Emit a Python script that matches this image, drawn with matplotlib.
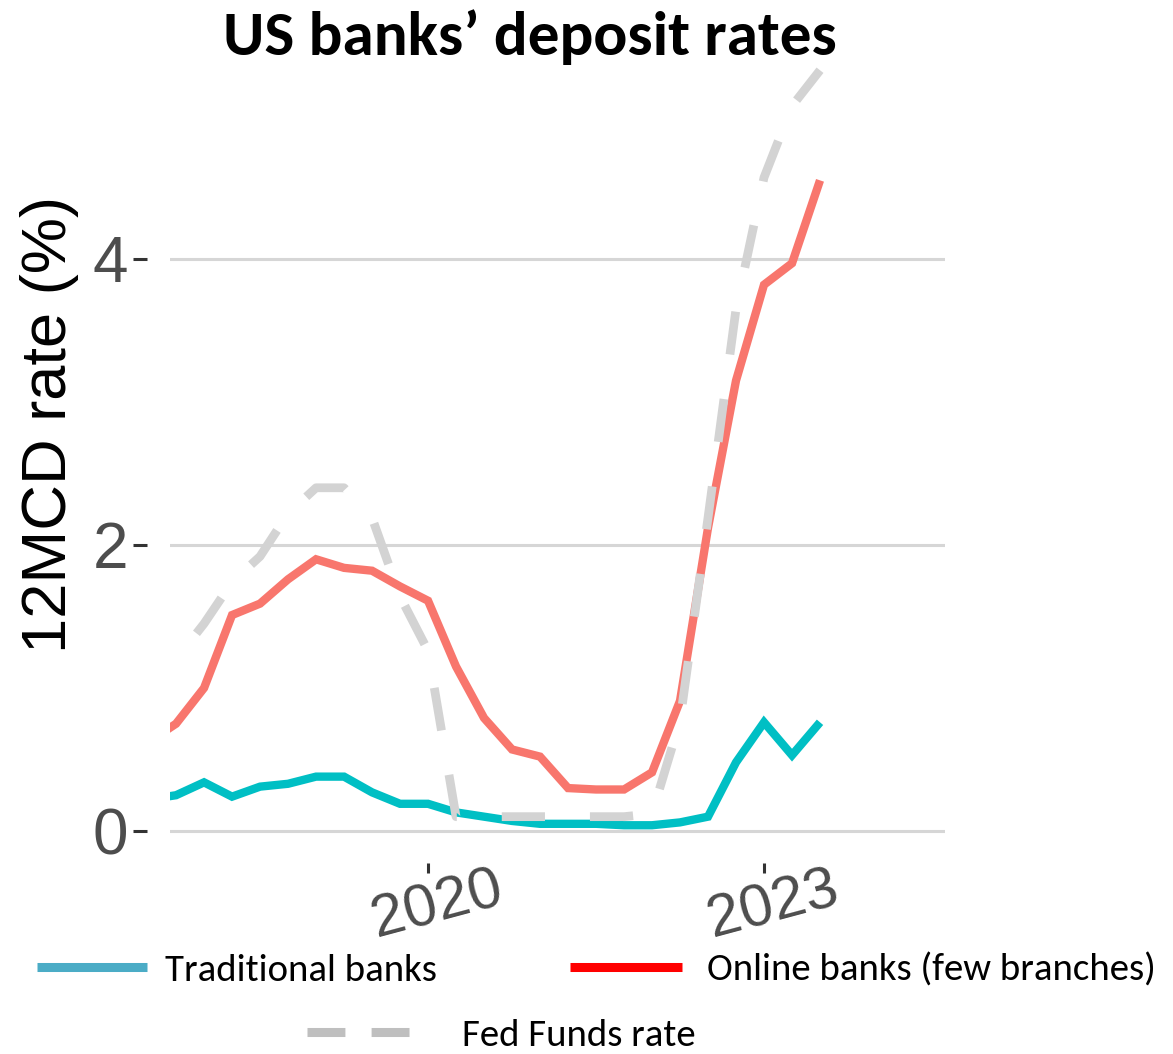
import matplotlib
matplotlib.use("Agg")
import matplotlib.pyplot as plt
import numpy as np
from matplotlib.lines import Line2D
from matplotlib.transforms import ScaledTranslation

# ---- data (quarterly, plotted at quarter start) ----
quarters = ["2017Q3", "2017Q4",
            "2018Q1", "2018Q2", "2018Q3", "2018Q4",
            "2019Q1", "2019Q2", "2019Q3", "2019Q4",
            "2020Q1", "2020Q2", "2020Q3", "2020Q4",
            "2021Q1", "2021Q2", "2021Q3", "2021Q4",
            "2022Q1", "2022Q2", "2022Q3", "2022Q4",
            "2023Q1", "2023Q2", "2023Q3"]
online_banks = [0.62, 0.75,
                1.00, 1.51, 1.59, 1.76,
                1.90, 1.84, 1.82, 1.71,
                1.61, 1.15, 0.79, 0.57,
                0.52, 0.30, 0.29, 0.29,
                0.41, 0.91, 2.12, 3.15,
                3.82, 3.97, 4.55]
traditional_banks = [0.22, 0.25,
                     0.34, 0.24, 0.31, 0.33,
                     0.38, 0.38, 0.27, 0.19,
                     0.19, 0.13, 0.10, 0.07,
                     0.05, 0.05, 0.05, 0.04,
                     0.04, 0.06, 0.10, 0.48,
                     0.76, 0.53, 0.76]
fed_funds = [1.15, 1.20,
             1.45, 1.74, 1.92, 2.22,
             2.40, 2.40, 2.19, 1.64,
             1.26, 0.10, 0.10, 0.10,
             0.10, 0.10, 0.10, 0.10,
             0.12, 0.77, 2.19, 3.65,
             4.57, 5.07, 5.32]
x_ticks = [2020, 2023]
x_tick_labels = ["2020", "2023"]
y_ticks = [0, 2, 4]
y_tick_labels = ["0", "2", "4"]

legend_labels = ["Traditional banks", "Online banks (few branches)", "Fed Funds rate"]
title = "US banks\u2019 deposit rates"
ylabel = "12MCD rate (%)"


def q_to_year(q):
    y, qq = q.split("Q")
    return int(y) + (int(qq) - 1) / 4.0


x = [q_to_year(q) for q in quarters]

# ---- figure ----
W, H, DPI = 1173, 1054, 100
fig = plt.figure(figsize=(W / DPI, H / DPI), dpi=DPI)
fig.patch.set_facecolor("white")

px_left, px_right = 170, 945
px_top, px_bottom = 44.5, 863
ax = fig.add_axes([px_left / W, 1 - px_bottom / H,
                   (px_right - px_left) / W, (px_bottom - px_top) / H])

ax.set_xlim(2017.696, 2024.616)
ax.set_ylim(-0.224, 5.5)

for s in ax.spines.values():
    s.set_visible(False)
ax.spines["left"].set_position(("outward", 23 * 72 / DPI))

ax.set_yticks(y_ticks)
ax.set_yticklabels(y_tick_labels)
ax.set_xticks(x_ticks)
ax.set_xticklabels(x_tick_labels)

ax.yaxis.grid(True, color="#D6D6D6", linewidth=2.2)
ax.xaxis.grid(False)
ax.set_axisbelow(True)

ax.tick_params(axis="y", length=10, width=2.2, color="#333333", pad=3.6,
               labelsize=46, labelcolor="#4D4D4D")
ax.tick_params(axis="x", length=7.2, width=2.2, color="#333333", pad=23,
               labelsize=43, labelcolor="#4D4D4D")
for lab in ax.get_yticklabels():
    lab.set_family(["Liberation Sans", "DejaVu Sans"])
for lab in ax.get_xticklabels():
    lab.set_family(["Liberation Sans", "DejaVu Sans"])
    lab.set_rotation(15)
    lab.set_rotation_mode("anchor")
    lab.set_ha("center")
    lab.set_va("center")
    lab.set_transform(lab.get_transform() + ScaledTranslation(9 / DPI, 0, fig.dpi_scale_trans))

ax.set_ylabel(ylabel, fontsize=45.5, color="black", va="center",
              family=["Liberation Sans", "DejaVu Sans"])
ax.yaxis.set_label_coords((50 - px_left) / (px_right - px_left),
                          (px_bottom - 425) / (px_bottom - px_top))

# ---- lines ----
ax.plot(x, traditional_banks, color="#00BFC4", linewidth=6,
        solid_joinstyle="miter", solid_capstyle="butt", zorder=3)
ax.plot(x, online_banks, color="#F8766D", linewidth=6,
        solid_joinstyle="miter", solid_capstyle="butt", zorder=3)

# dash phase: first visible dash starts ~62 px along the path, last dash ends at the path end
ff_lw = 6.3
pts = ax.transData.transform(np.column_stack([x, fed_funds]))
seglen = np.hypot(np.diff(pts[:, 0]), np.diff(pts[:, 1]))
L = seglen.sum()
first_start = 62.0
last_start = L - 38.0
n = max(1, int(round((last_start - first_start) / 86.0)))
P = (last_start - first_start) / n
unit = ff_lw * DPI / 72.0
on_px, off_px = 0.49 * P, 0.51 * P
offset_px = (P - first_start) % P
ax.plot(x, fed_funds, color="#D3D3D3", linewidth=ff_lw,
        linestyle=(offset_px / unit, (on_px / unit, off_px / unit)),
        dash_capstyle="butt", dash_joinstyle="round", zorder=4)

# ---- title ----
tfont = ["Carlito", "Lato", "DejaVu Sans"]
fig.text(530 / W, 1 - 55 / H, title, ha="center", va="baseline",
         fontsize=45.5, fontweight="heavy", family=tfont, color="black")

# ---- legend (three single-entry legends placed like the reference) ----
h1 = Line2D([], [], color="#4BACC6", linewidth=6.5, solid_capstyle="butt")
h2 = Line2D([], [], color="#FF0000", linewidth=6.5, solid_capstyle="butt")
h3 = Line2D([], [], color="#BFBFBF", linewidth=6.5, dashes=(4.2, 2.9),
            dash_capstyle="butt")
lfs = 28
em = lfs * DPI / 72
common = dict(frameon=False, borderpad=0, borderaxespad=0, loc="center left",
              prop={"family": tfont, "size": lfs})
fig.legend([h1], [legend_labels[0]], bbox_to_anchor=(37 / W, 1 - 970 / H),
           handlelength=110 / em, handletextpad=18 / em, **common)
fig.legend([h2], [legend_labels[1]], bbox_to_anchor=(570 / W, 1 - 970 / H),
           handlelength=112 / em, handletextpad=25 / em, **common)
fig.legend([h3], [legend_labels[2]], bbox_to_anchor=(307 / W, 1 - 1035 / H),
           handlelength=103 / em, handletextpad=52 / em, **common)

fig.savefig("out.png", dpi=DPI, facecolor="white")
